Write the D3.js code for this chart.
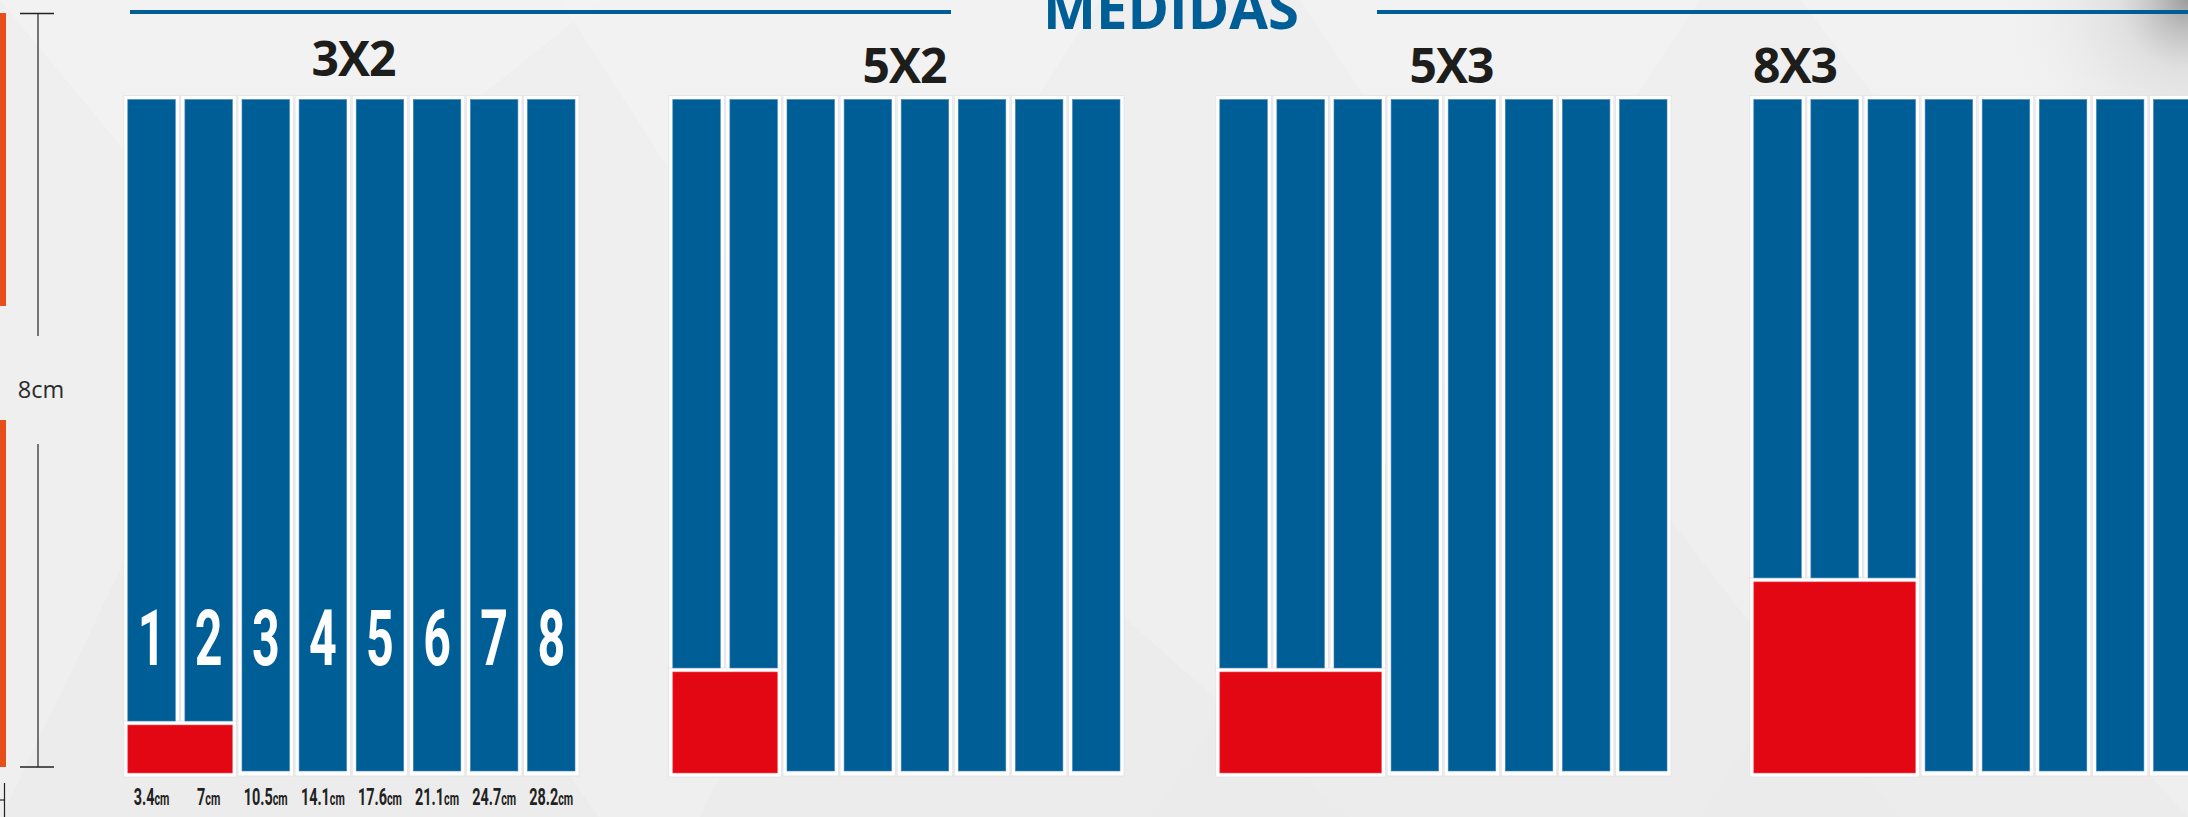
<!DOCTYPE html>
<html>
<head>
<meta charset="utf-8">
<script src="https://cdn.jsdelivr.net/npm/d3@7"></script>
<style>
  html, body { margin: 0; padding: 0; background: #efefef; overflow: hidden; }
  svg { display: block; }
</style>
</head>
<body>
<script>
// ---------- DATA ----------
const title = "MEDIDAS";
const groups = ["3X2", "5X2", "5X3", "8X3"];
const redColumns = [2, 2, 3, 3];              // columns covered by the red sticker
const redHeightCm = [0.57, 1.2, 1.2, 2.27];   // height of the red sticker (cm, on 8cm scale)
const columnNumbers = ["1", "2", "3", "4", "5", "6", "7", "8"];
const widthLabels = ["3.4", "7", "10.5", "14.1", "17.6", "21.1", "24.7", "28.2"];
const widthUnit = "cm";
const heightCm = 8;
const heightLabel = "8cm";

// ---------- LAYOUT ----------
const W = 2188, H = 817;
const groupStarts = [123, 668, 1215, 1749];
const groupSpan = 8 * 57.1;
const C = { blue: "#005e97", red: "#e30613", orange: "#e84e1b", bg: "#efefef", ink: "#1d1d1b" };
const condensed = "Roboto, 'Liberation Sans', sans-serif";

const svg = d3.select("body").append("svg").attr("width", W).attr("height", H);
const defs = svg.append("defs");
const rg = defs.append("radialGradient").attr("id", "shadow").attr("cx", 1).attr("cy", 0).attr("r", 1);
rg.append("stop").attr("offset", 0).attr("stop-color", "#555").attr("stop-opacity", 0.55);
rg.append("stop").attr("offset", 0.35).attr("stop-color", "#999").attr("stop-opacity", 0.2);
rg.append("stop").attr("offset", 1).attr("stop-color", "#efefef").attr("stop-opacity", 0);

// background
svg.append("rect").attr("width", W).attr("height", H).attr("fill", C.bg);
const tris = [
  [[0,0],[600,0],[240,290]], [[250,300],[600,820],[0,820]], [[560,0],[1100,0],[830,420]],
  [[900,420],[1350,817],[700,817]], [[1300,0],[1700,0],[1500,300]], [[1500,300],[1900,817],[1150,817]],
  [[1800,0],[2188,0],[2188,500]], [[1900,500],[2188,817],[1700,817]]
];
svg.append("g").selectAll("polygon").data(tris).join("polygon")
  .attr("points", d => d.map(p => p.join(",")).join(" "))
  .attr("fill", (d, i) => i % 2 ? "#ebebeb" : "#f2f2f2").attr("opacity", 0.8);
svg.append("rect").attr("x", 1990).attr("y", 0).attr("width", 198).attr("height", 200).attr("fill", "url(#shadow)");

// title + rules
svg.append("rect").attr("x", 130).attr("y", 10).attr("width", 821).attr("height", 4).attr("fill", C.blue);
svg.append("rect").attr("x", 1377).attr("y", 10).attr("width", 811).attr("height", 4).attr("fill", C.blue);
svg.append("text").attr("x", 1043).attr("y", 29).attr("textLength", 256).attr("lengthAdjust", "spacingAndGlyphs")
  .attr("font-family", "'Open Sans', sans-serif").attr("font-weight", 700).attr("font-size", 58)
  .attr("fill", C.blue).text(title);

// left scale
const y = d3.scaleLinear().domain([0, heightCm]).range([773, 99.5]);
const scaleG = svg.append("g");
scaleG.append("rect").attr("x", 0).attr("y", 13).attr("width", 6).attr("height", 293).attr("fill", C.orange);
scaleG.append("rect").attr("x", 0).attr("y", 420).attr("width", 6).attr("height", 347).attr("fill", C.orange);
scaleG.append("line").attr("x1", 20).attr("x2", 54).attr("y1", 13.5).attr("y2", 13.5).attr("stroke", "#222").attr("stroke-width", 1.5);
scaleG.append("line").attr("x1", 20).attr("x2", 54).attr("y1", 767).attr("y2", 767).attr("stroke", "#222").attr("stroke-width", 1.5);
scaleG.append("line").attr("x1", 38).attr("x2", 38).attr("y1", 13.5).attr("y2", 336).attr("stroke", "#222").attr("stroke-width", 1.2);
scaleG.append("line").attr("x1", 38).attr("x2", 38).attr("y1", 444).attr("y2", 767).attr("stroke", "#222").attr("stroke-width", 1.2);
scaleG.append("text").attr("x", 41).attr("y", 398).attr("text-anchor", "middle")
  .attr("font-family", "'Open Sans', sans-serif").attr("font-size", 23.5).attr("fill", "#2b2b2b").text(heightLabel);
scaleG.append("line").attr("x1", 4.5).attr("x2", 4.5).attr("y1", 783).attr("y2", 817).attr("stroke", "#222").attr("stroke-width", 1.2);
scaleG.append("line").attr("x1", 0).attr("x2", 4.5).attr("y1", 800).attr("y2", 800).attr("stroke", "#222").attr("stroke-width", 1.2);

// groups
groups.forEach((name, gi) => {
  const x = d3.scaleBand().domain(columnNumbers).range([groupStarts[gi], groupStarts[gi] + groupSpan])
    .paddingInner(0.168).paddingOuter(0.084);
  const bw = x.bandwidth();
  const g = svg.append("g");
  const nRed = redColumns[gi];
  const redTop = y(redHeightCm[gi]);
  const base = y(0);
  const top = y(heightCm);

  // white frames
  columnNumbers.forEach((c, ci) => {
    const h = ci < nRed ? redTop - 4 - top + 8 : base - top + 7;
    g.append("rect").attr("x", x(c) - 4).attr("y", top - 4).attr("width", bw + 8).attr("height", h)
      .attr("fill", "#fff").attr("stroke", "#e2e2e2").attr("stroke-width", 0.8);
  });
  const rx0 = x(columnNumbers[0]), rx1 = x(columnNumbers[nRed - 1]) + bw;
  g.append("rect").attr("x", rx0 - 4).attr("y", redTop - 4).attr("width", rx1 - rx0 + 8).attr("height", base - redTop + 8)
    .attr("fill", "#fff").attr("stroke", "#e2e2e2").attr("stroke-width", 0.8);

  // blue bars
  g.selectAll("rect.bar").data(columnNumbers).join("rect").attr("class", "bar")
    .attr("x", d => x(d)).attr("y", top).attr("width", bw)
    .attr("height", (d, i) => (i < nRed ? redTop - 4 : base - 2) - top)
    .attr("fill", C.blue).attr("stroke", "#3f86b9").attr("stroke-width", 0.6);

  // red sticker
  g.append("rect").attr("x", rx0).attr("y", redTop).attr("width", rx1 - rx0).attr("height", base - redTop)
    .attr("fill", C.red).attr("stroke", "#ee5a63").attr("stroke-width", 0.6);

  // group label
  const lx = gi === 3 ? groupStarts[gi] + 4 : (groupStarts[gi] + groupSpan / 2 + (gi === 0 ? 2 : 8));
  g.append("text").attr("x", lx).attr("y", gi === 0 ? 76 : 83)
    .attr("text-anchor", gi === 3 ? "start" : "middle")
    .attr("font-family", "'Open Sans', sans-serif").attr("font-weight", 700).attr("font-size", 48)
    .attr("letter-spacing", -1).attr("fill", C.ink).text(name);

  if (gi === 0) {
    // column numbers
    g.selectAll("text.num").data(columnNumbers).join("text").attr("class", "num")
      .attr("transform", d => `translate(${x(d) + bw / 2},665) scale(0.62,1)`)
      .attr("text-anchor", "middle")
      .attr("font-family", condensed)
      .attr("font-weight", 700).attr("font-size", 78).attr("fill", "#fff").text(d => d);
    // width labels
    const lab = g.selectAll("text.w").data(widthLabels).join("text").attr("class", "w")
      .attr("transform", (d, i) => `translate(${x(columnNumbers[i]) + bw / 2},805) scale(0.6,1)`)
      .attr("text-anchor", "middle")
      .attr("font-family", condensed)
      .attr("font-weight", 700).attr("fill", "#222");
    lab.append("tspan").attr("font-size", 24).text(d => d);
    lab.append("tspan").attr("font-size", 18).text(widthUnit);
  }
});
</script>
</body>
</html>
